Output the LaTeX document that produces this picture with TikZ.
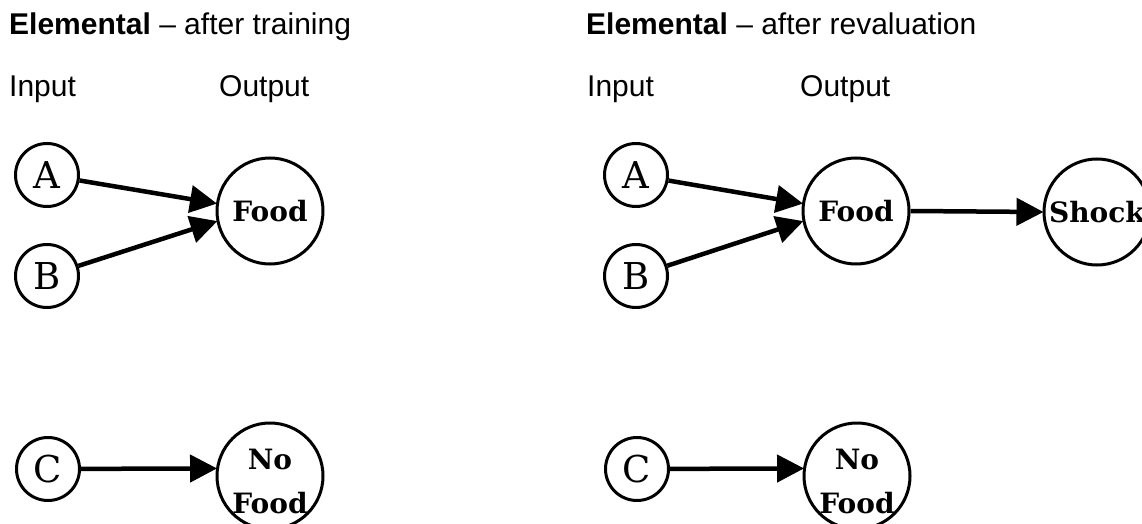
\documentclass[tikz,border=0pt]{standalone}
\usepackage{fontspec}
\setmainfont{Liberation Sans}
\newfontfamily\nodeserif{DejaVu Serif}
\usetikzlibrary{arrows.meta}
\newcommand{\twolines}[2]{\raisebox{-13pt}[0pt][0pt]{\begin{tabular}{@{}c@{}}#1\\#2\end{tabular}}}
\begin{document}
\begin{tikzpicture}[x=1pt,y=-1pt,
  lbl/.style={anchor=base west,inner sep=0pt,font=\fontsize{30}{36}\selectfont},
  inp/.style={circle,draw,line width=3pt,minimum size=63pt,inner sep=0pt,font=\nodeserif\fontsize{37}{40}\selectfont},
  outp/.style={circle,draw,line width=3pt,minimum size=106pt,inner sep=0pt,font=\nodeserif\bfseries\fontsize{28}{44}\selectfont,align=center},
  conn/.style={line width=4.5pt,-{Triangle[length=27pt,width=27pt]},shorten >=-1pt}]
\useasboundingbox (0,0) rectangle (1142,524);
% left panel
\node[lbl] (t1) at (9,35) {\textbf{Elemental} -- after training};
\node[lbl] (i1) at (9,97) {Input};
\node[lbl] (o1) at (219,97) {Output};
\node[inp] (a1) at (47,175) {A};
\node[inp] (b1) at (47,276) {B};
\node[inp] (c1) at (48,469) {C};
\node[outp] (f1) at (270,211) {Food};
\node[outp] (n1) at (270,476) {\twolines{No}{Food}};
\draw[conn] (a1) -- (f1.172);
\draw[conn] (b1) -- (f1.191);
\draw[conn] (c1) -- (n1.172);
% right panel
\node[lbl] (t2) at (586,35) {\textbf{Elemental} -- after revaluation};
\node[lbl] (i2) at (587,97) {Input};
\node[lbl] (o2) at (800,97) {Output};
\node[inp] (a2) at (636,175) {A};
\node[inp] (b2) at (636,276) {B};
\node[inp] (c2) at (637,469) {C};
\node[outp] (f2) at (856,211) {Food};
\node[outp] (s2) at (1097,212) {Shock};
\node[outp] (n2) at (857,476) {\twolines{No}{Food}};
\draw[conn] (a2) -- (f2.172);
\draw[conn] (b2) -- (f2.191);
\draw[conn] (f2.east) -- (s2.west);
\draw[conn] (c2) -- (n2.172);
\end{tikzpicture}
\end{document}
